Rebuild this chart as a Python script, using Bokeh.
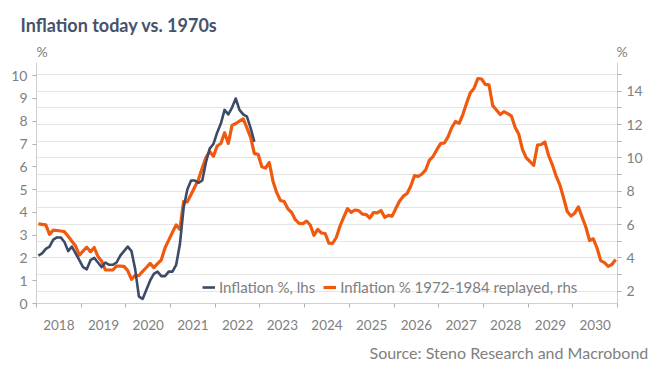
from bokeh.plotting import figure
from bokeh.models import Range1d, LinearAxis, FixedTicker, Legend, LegendItem, Title
from bokeh.embed import file_html
from bokeh.resources import INLINE

# ---------------- data ----------------
years = ["2018", "2019", "2020", "2021", "2022", "2023", "2024",
         "2025", "2026", "2027", "2028", "2029", "2030"]
start_year = 2018

# US inflation %, monthly Jan 2018 - Nov 2022 (lhs)
inflation_today = [
    2.1, 2.2, 2.4, 2.5, 2.8, 2.9, 2.9, 2.7, 2.3, 2.5, 2.2, 1.9,
    1.6, 1.5, 1.9, 2.0, 1.8, 1.6, 1.8, 1.7, 1.7, 1.8, 2.1, 2.3,
    2.5, 2.3, 1.5, 0.3, 0.2, 0.6, 1.0, 1.3, 1.4, 1.2, 1.2, 1.4,
    1.4, 1.7, 2.6, 4.2, 5.0, 5.4, 5.4, 5.3, 5.4, 6.2, 6.8, 7.0,
    7.5, 7.9, 8.5, 8.3, 8.6, 9.0, 8.5, 8.3, 8.2, 7.7, 7.1,
]

# 1970s/80s inflation replayed, monthly from Jan 2018 to Dec 2030 (rhs)
inflation_replayed = [
    6.04, 6.01, 5.98, 5.41, 5.66, 5.64, 5.61, 5.57,
    5.29, 5.00, 4.71, 4.16, 4.40, 4.64, 4.36, 4.62, 4.08, 3.80, 3.28, 3.27,
    3.27, 3.51, 3.50, 3.49, 3.23, 2.71, 2.95, 2.94, 3.19, 3.42, 3.67, 3.41,
    3.65, 3.87, 4.59, 5.06, 5.53, 5.97, 5.71, 7.38, 7.36, 7.80, 8.25, 8.71,
    9.39, 10.02, 10.39, 10.09, 10.71, 10.86, 11.51, 10.86, 11.95, 12.06, 12.20, 12.34,
    11.80, 11.23, 10.25, 10.21, 9.47, 9.39, 9.72, 8.60, 7.91, 7.44, 7.38, 6.94,
    6.72, 6.29, 6.07, 6.05, 6.20, 5.97, 5.35, 5.71, 5.49, 5.46, 4.88, 4.86,
    5.22, 5.91, 6.44, 6.95, 6.73, 6.87, 6.83, 6.62, 6.60, 6.39, 6.72, 6.70,
    6.84, 6.43, 6.55, 6.50, 6.97, 7.41, 7.70, 7.86, 8.31, 8.93, 8.89, 9.03,
    9.28, 9.86, 10.09, 10.49, 10.85, 10.89, 11.26, 11.82, 12.18, 12.07, 12.61, 13.29,
    13.91, 14.18, 14.76, 14.73, 14.41, 14.38, 13.13, 12.87, 12.60, 12.77, 12.65, 12.52,
    11.83, 11.41, 10.49, 10.00, 9.78, 9.55, 10.76, 10.80, 10.95, 10.14, 9.59, 8.92,
    8.39, 7.62, 6.78, 6.51, 6.68, 7.06, 6.44, 5.85, 5.04, 5.14, 4.59, 3.83,
    3.71, 3.49, 3.60, 3.90,
]

left_ticks = [0, 1, 2, 3, 4, 5, 6, 7, 8, 9, 10]
right_ticks = [2, 4, 6, 8, 10, 12, 14]
right_minor = [3, 5, 7, 9, 11, 13, 15]
grid_values = [2, 3, 4, 5, 6, 7, 8, 9, 10, 11, 12, 13, 14, 15]

title_text = "Inflation today vs. 1970s"
source_text = "Source: Steno Research and Macrobond"
unit_text = "%"
legend_labels = ["Inflation %, lhs", "Inflation % 1972-1984 replayed, rhs"]

# ---------------- styling ----------------
GRAY_TXT = "#808080"
AXIS_COL = "#d0d0d0"
TICK_COL = "#b0b0b0"
FONT = "Lato"
L_MAX = 10.58
R_MIN, R_MAX = 1.26, 15.72

x_today = [start_year + (i + 0.5) / 12 for i in range(len(inflation_today))]
x_replay = [start_year + (i + 0.5) / 12 for i in range(len(inflation_replayed))]

p = figure(frame_width=581, frame_height=241,
           min_border_left=36, min_border_right=34,
           min_border_top=62, min_border_bottom=60,
           x_range=Range1d(start_year, start_year + len(years)),
           y_range=Range1d(0, L_MAX),
           output_backend="svg", toolbar_location=None)
p.extra_y_ranges = {"r": Range1d(R_MIN, R_MAX)}
p.outline_line_color = None
p.background_fill_color = "white"
p.border_fill_color = "white"

# unit row ("%" above the left axis and above the right axis), next to the frame
unit_row = unit_text + "\u2003" * 54 + "\u2009" + unit_text
p.add_layout(Title(text=unit_row, align="left", offset=0, standoff=5,
                   text_font=FONT, text_font_style="normal", text_font_size="14px",
                   text_color=GRAY_TXT), "above")

# main title (outermost)
p.title.text = title_text
p.title.align = "left"
p.title.offset = -16
p.title.standoff = 6
p.title.text_font = FONT
p.title.text_font_style = "bold"
p.title.text_font_size = "18px"
p.title.text_color = "#46526C"

# x axis: labels centred in each year, tick marks at year boundaries
centers = [start_year + i + 0.5 for i in range(len(years))]
bounds = [start_year + i for i in range(len(years) + 1)]
xa = p.xaxis[0]
xa.ticker = FixedTicker(ticks=centers, minor_ticks=bounds)
xa.major_label_overrides = {c: y for c, y in zip(centers, years)}
xa.major_tick_line_color = None
xa.minor_tick_in = 0
xa.minor_tick_out = 4
xa.minor_tick_line_color = TICK_COL
xa.axis_line_color = AXIS_COL
xa.major_label_text_font = FONT
xa.major_label_text_font_size = "13.5px"
xa.major_label_text_color = GRAY_TXT
xa.major_label_standoff = 10

# source (below the x axis)
p.add_layout(Title(text=source_text, align="left", offset=333, standoff=16,
                   text_font=FONT, text_font_style="normal", text_font_size="16px",
                   text_color=GRAY_TXT), "below")

# left axis
ya = p.yaxis[0]
ya.ticker = FixedTicker(ticks=left_ticks)
ya.major_tick_in = 0
ya.major_tick_out = 4
ya.major_tick_line_color = TICK_COL
ya.minor_tick_line_color = None
ya.axis_line_color = AXIS_COL
ya.major_label_text_font = FONT
ya.major_label_text_font_size = "14px"
ya.major_label_text_color = GRAY_TXT
ya.major_label_standoff = 5

# right axis
ra = LinearAxis(y_range_name="r", ticker=FixedTicker(ticks=right_ticks, minor_ticks=right_minor))
ra.major_tick_in = 0
ra.major_tick_out = 4
ra.minor_tick_in = 0
ra.minor_tick_out = 4
ra.major_tick_line_color = TICK_COL
ra.minor_tick_line_color = TICK_COL
ra.axis_line_color = AXIS_COL
ra.major_label_text_font = FONT
ra.major_label_text_font_size = "14px"
ra.major_label_text_color = GRAY_TXT
ra.major_label_standoff = 5
p.add_layout(ra, "right")

# grid lines at the right-axis integers
p.xgrid.visible = False
p.ygrid.ticker = FixedTicker(ticks=[(g - R_MIN) / (R_MAX - R_MIN) * L_MAX for g in grid_values])
p.ygrid.grid_line_color = "#e4e4e4"
p.ygrid.grid_line_width = 1

# series
ro = p.line(x_replay, inflation_replayed, y_range_name="r",
            line_color="#F05A0F", line_width=3.2, line_join="round")
rb = p.line(x_today, inflation_today,
            line_color="#3D4A68", line_width=2.6, line_join="round")

legend = Legend(items=[LegendItem(label=legend_labels[0], renderers=[rb]),
                       LegendItem(label=legend_labels[1], renderers=[ro])],
                orientation="horizontal", location=(166, 6),
                glyph_width=13, glyph_height=20, label_height=20,
                label_standoff=4, spacing=8, padding=0, margin=0,
                border_line_color=None, background_fill_alpha=0,
                label_text_font=FONT, label_text_font_size="15px",
                label_text_color=GRAY_TXT)
p.add_layout(legend)

open("out.html", "w").write(file_html(p, INLINE))
